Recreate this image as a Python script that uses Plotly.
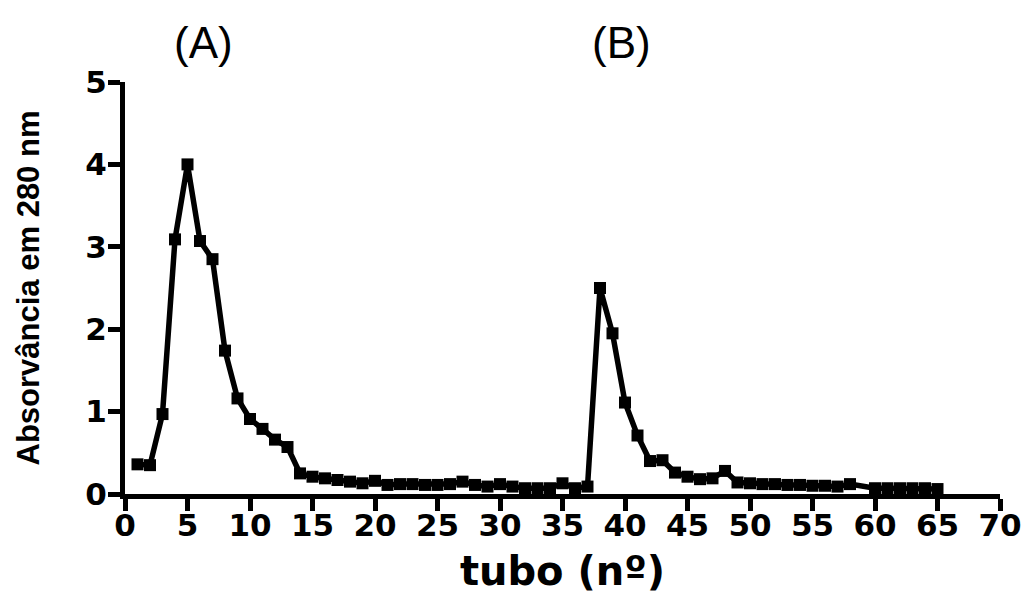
import plotly.graph_objects as go

tubo = [1, 2, 3, 4, 5, 6, 7, 8, 9, 10, 11, 12, 13, 14, 15, 16, 17, 18, 19, 20,
        21, 22, 23, 24, 25, 26, 27, 28, 29, 30, 31, 32, 33, 34, 35, 36, 37, 38, 39, 40,
        41, 42, 43, 44, 45, 46, 47, 48, 49, 50, 51, 52, 53, 54, 55, 56, 57, 58,
        60, 61, 62, 63, 64, 65]
absorbancia = [0.36, 0.35, 0.97, 3.09, 4.00, 3.07, 2.85, 1.74, 1.16, 0.91,
               0.79, 0.66, 0.57, 0.25, 0.21, 0.19, 0.17, 0.15, 0.13, 0.16,
               0.11, 0.12, 0.12, 0.11, 0.11, 0.12, 0.15, 0.11, 0.09, 0.12,
               0.09, 0.07, 0.07, 0.07, 0.13, 0.07, 0.09, 2.50, 1.95, 1.11,
               0.71, 0.40, 0.41, 0.26, 0.21, 0.18, 0.19, 0.28, 0.14, 0.13,
               0.12, 0.12, 0.11, 0.11, 0.10, 0.10, 0.09, 0.12,
               0.07, 0.07, 0.07, 0.07, 0.07, 0.06]

x_ticks = list(range(0, 71, 5))
y_ticks = [0, 1, 2, 3, 4, 5]
peak_labels = ["(A)", "(B)"]
peak_label_x = [6.3, 39.7]

fig = go.Figure()
fig.add_trace(go.Scatter(
    x=tubo, y=absorbancia, mode="lines+markers",
    line=dict(color="black", width=5.5),
    marker=dict(symbol="square", size=12, color="black"),
    cliponaxis=False, showlegend=False,
))

for lab, lx in zip(peak_labels, peak_label_x):
    fig.add_annotation(x=lx, y=1.0, xref="x", yref="paper", yshift=40, yanchor="middle",
                       text=lab, showarrow=False,
                       font=dict(family="Liberation Sans, Arial", size=44, color="black"))

fig.update_layout(
    width=1024, height=594,
    margin=dict(l=125, r=24, t=82, b=100),
    plot_bgcolor="white", paper_bgcolor="white",
    font=dict(family="Liberation Sans, Arial", color="black"),
)
fig.update_xaxes(
    range=[0, 70], tickvals=x_ticks, ticktext=[str(v) for v in x_ticks],
    automargin=False, ticklabelstandoff=-12,
    showgrid=False, zeroline=False, showline=True, linecolor="black", linewidth=5,
    ticks="outside", ticklen=12, tickwidth=5, tickcolor="black",
    tickfont=dict(family="DejaVu Sans, Liberation Sans", size=31, color="black", weight="bold"),
    title=dict(text="tubo (nº)", standoff=31,
               font=dict(family="DejaVu Sans, Liberation Sans", size=40, color="black", weight="bold")),
)
fig.update_yaxes(
    range=[0, 5], tickvals=y_ticks, ticktext=[str(v) for v in y_ticks],
    automargin=False, ticklabelstandoff=-5,
    showgrid=False, zeroline=False, showline=True, linecolor="black", linewidth=5,
    ticks="outside", ticklen=12, tickwidth=5, tickcolor="black",
    tickfont=dict(family="DejaVu Sans, Liberation Sans", size=31, color="black", weight="bold"),
    title=dict(text="Absorvância em 280 nm", standoff=38,
               font=dict(family="Liberation Sans, Arial", size=31,
                         color="black", weight="bold")),
)

fig.write_html("out.html")
